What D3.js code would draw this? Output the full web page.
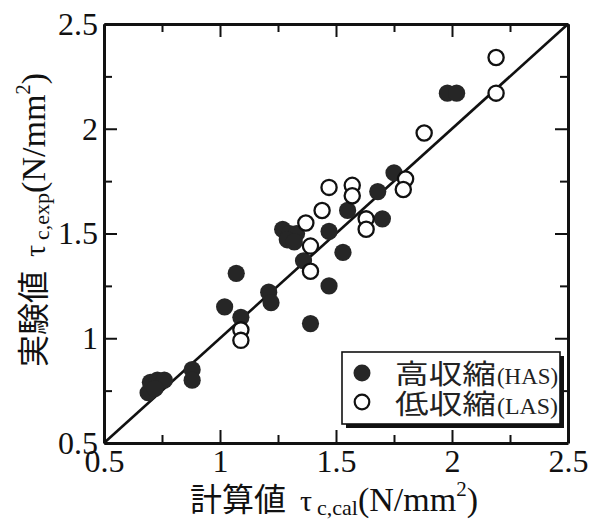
<!DOCTYPE html>
<html>
<head>
<meta charset="utf-8">
<script src="https://cdn.jsdelivr.net/npm/d3@7"></script>
<style>
  html, body { margin: 0; padding: 0; background: #fff; }
  svg { display: block; }
</style>
</head>
<body>
<svg id="chart" width="591" height="526"></svg>
<script>
// Calculated vs. experimental bond stress τc (N/mm²)
const majorTicks = [0.5, 1, 1.5, 2, 2.5];
const tickLabels = ["0.5", "1", "1.5", "2", "2.5"];
const minorTicks = [0.75, 1.25, 1.75, 2.25];

// High-shrinkage mix (filled)
const hasCal = [0.69, 0.70, 0.73, 0.76, 0.72, 0.88, 0.88, 1.02, 1.07, 1.09, 1.21, 1.22,
                1.27, 1.30, 1.33, 1.29, 1.32, 1.36, 1.39, 1.47, 1.47, 1.53, 1.55,
                1.68, 1.70, 1.75, 1.98, 2.02];
const hasExp = [0.74, 0.79, 0.80, 0.80, 0.76, 0.85, 0.80, 1.15, 1.31, 1.10, 1.22, 1.17,
                1.52, 1.50, 1.50, 1.47, 1.46, 1.37, 1.07, 1.51, 1.25, 1.41, 1.61,
                1.70, 1.57, 1.79, 2.17, 2.17];

// Low-shrinkage mix (open)
const lasCal = [1.09, 1.09, 1.39, 1.39, 1.37, 1.44, 1.47, 1.57, 1.57, 1.63, 1.63,
                1.80, 1.79, 1.88, 2.19, 2.19];
const lasExp = [1.04, 0.99, 1.44, 1.32, 1.55, 1.61, 1.72, 1.73, 1.68, 1.57, 1.52,
                1.76, 1.71, 1.98, 2.17, 2.34];

const legendLabels = [["高収縮", "(HAS)"], ["低収縮", "(LAS)"]];

const SERIF = "'Liberation Serif', 'Times New Roman', serif";
const CJK = "'Noto Sans CJK JP', 'Noto Sans CJK SC', sans-serif";
const INK = "#111";
const DOT = "#262626";

const svg = d3.select("#chart");
const x = d3.scaleLinear().domain([0.5, 2.5]).range([104, 568]);
const y = d3.scaleLinear().domain([0.5, 2.5]).range([443, 24]);

function styleAxis(g, showText) {
  g.attr("font-family", SERIF).attr("font-size", 32);
  g.select(".domain").attr("stroke", INK).attr("stroke-width", 3);
  g.selectAll(".tick line").attr("stroke", INK).attr("stroke-width", 2);
  g.selectAll(".tick text").attr("fill", INK);
  if (!showText) g.selectAll(".tick text").remove();
}

// Major ticks on all four sides, pointing inward
svg.append("g").attr("transform", `translate(0,${y(0.5)})`)
  .call(d3.axisBottom(x).tickValues(majorTicks).tickFormat((d, i) => tickLabels[i])
    .tickSizeInner(-13).tickSizeOuter(0).tickPadding(6))
  .call(g => styleAxis(g, true));
svg.append("g").attr("transform", `translate(${x(0.5)},0)`)
  .call(d3.axisLeft(y).tickValues(majorTicks).tickFormat((d, i) => tickLabels[i])
    .tickSizeInner(-13).tickSizeOuter(0).tickPadding(6))
  .call(g => styleAxis(g, true));
svg.append("g").attr("transform", `translate(0,${y(2.5)})`)
  .call(d3.axisTop(x).tickValues(majorTicks).tickSizeInner(-13).tickSizeOuter(0))
  .call(g => styleAxis(g, false));
svg.append("g").attr("transform", `translate(${x(2.5)},0)`)
  .call(d3.axisRight(y).tickValues(majorTicks).tickSizeInner(-13).tickSizeOuter(0))
  .call(g => styleAxis(g, false));

// Minor ticks
const minorDefs = [
  [d3.axisBottom(x), `translate(0,${y(0.5)})`],
  [d3.axisTop(x), `translate(0,${y(2.5)})`],
  [d3.axisLeft(y), `translate(${x(0.5)},0)`],
  [d3.axisRight(y), `translate(${x(2.5)},0)`]
];
minorDefs.forEach(([ax, tr]) => {
  svg.append("g").attr("transform", tr)
    .call(ax.tickValues(minorTicks).tickFormat("").tickSizeInner(-8).tickSizeOuter(0))
    .call(g => { g.select(".domain").remove(); g.selectAll(".tick line").attr("stroke", INK).attr("stroke-width", 2); });
});

// 1:1 line
svg.append("line")
  .attr("x1", x(0.5)).attr("y1", y(0.5)).attr("x2", x(2.5)).attr("y2", y(2.5))
  .attr("stroke", INK).attr("stroke-width", 2.6);

// Data points
svg.append("g").selectAll("circle").data(hasCal.map((v, i) => [v, hasExp[i]])).join("circle")
  .attr("cx", d => x(d[0])).attr("cy", d => y(d[1])).attr("r", 8.6)
  .attr("fill", DOT);
svg.append("g").selectAll("circle").data(lasCal.map((v, i) => [v, lasExp[i]])).join("circle")
  .attr("cx", d => x(d[0])).attr("cy", d => y(d[1])).attr("r", 7.6)
  .attr("fill", "#fff").attr("stroke", INK).attr("stroke-width", 2.3);

// Legend with drop shadow
const lg = svg.append("g");
lg.append("rect").attr("x", 346).attr("y", 356).attr("width", 218).attr("height", 72).attr("fill", INK);
lg.append("rect").attr("x", 342).attr("y", 352).attr("width", 218).attr("height", 72)
  .attr("fill", "#fff").attr("stroke", INK).attr("stroke-width", 1.6);
lg.append("circle").attr("cx", 362).attr("cy", 373).attr("r", 8.5).attr("fill", DOT);
lg.append("circle").attr("cx", 362).attr("cy", 402).attr("r", 7.3)
  .attr("fill", "#fff").attr("stroke", INK).attr("stroke-width", 2.2);
legendLabels.forEach(([jp, en], i) => {
  const by = 384 + i * 30;
  lg.append("text").attr("x", 395).attr("y", by).attr("font-family", CJK).attr("font-size", 27)
    .attr("fill", "#222").attr("textLength", 101).attr("lengthAdjust", "spacingAndGlyphs").text(jp);
  lg.append("text").attr("x", 497).attr("y", by).attr("font-family", SERIF).attr("font-size", 24)
    .attr("fill", "#222").attr("textLength", 61).attr("lengthAdjust", "spacingAndGlyphs").text(en);
});

// Axis titles
function axisTitle(t, jp, sub) {
  t.append("tspan").attr("font-family", CJK).attr("font-size", 32).text(jp);
  t.append("tspan").attr("font-family", SERIF).attr("font-size", 30).attr("dx", 14).text("τ");
  t.append("tspan").attr("font-family", SERIF).attr("font-size", 22).attr("dx", 5).attr("dy", 4).text(sub);
  t.append("tspan").attr("font-family", SERIF).attr("font-size", 34).attr("dy", -4).text("(N/mm");
  t.append("tspan").attr("font-family", SERIF).attr("font-size", 21).attr("dy", -15).text("2");
  t.append("tspan").attr("font-family", SERIF).attr("font-size", 34).attr("dy", 15).text(")");
}
const xt = svg.append("text").attr("x", 190).attr("y", 511).attr("fill", INK);
axisTitle(xt, "計算値", "c,cal");
const yt = svg.append("text").attr("transform", "translate(45,367) rotate(-90)").attr("fill", INK);
axisTitle(yt, "実験値", "c,exp");
</script>
</body>
</html>
